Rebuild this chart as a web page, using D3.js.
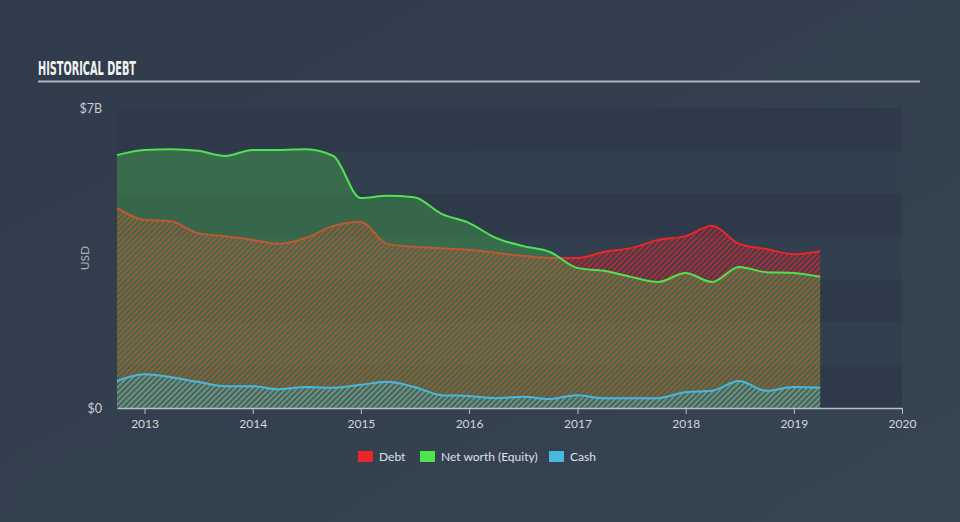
<!DOCTYPE html>
<html>
<head>
<meta charset="utf-8">
<script src="https://cdn.jsdelivr.net/npm/d3@7"></script>
<style>
  html, body { margin: 0; padding: 0; background: #333f4e; }
  svg { display: block; }
</style>
</head>
<body>
<svg id="chart" width="960" height="522"></svg>
<script>
// ---- data (quarter-end dates, values in billions USD) ----
const dates = [
  "2012-09-30","2012-12-31","2013-03-31","2013-06-30","2013-09-30","2013-12-31",
  "2014-03-31","2014-06-30","2014-09-30","2014-12-31","2015-03-31","2015-06-30",
  "2015-09-30","2015-12-31","2016-03-31","2016-06-30","2016-09-30","2016-12-31",
  "2017-03-31","2017-06-30","2017-09-30","2017-12-31","2018-03-31","2018-06-30",
  "2018-09-30","2018-12-31","2019-03-31"
];
const debt = [4.67,4.39,4.36,4.08,4.01,3.92,3.83,3.97,4.25,4.34,3.83,3.76,3.73,3.69,3.62,3.55,3.50,3.50,3.64,3.73,3.92,4.01,4.25,3.83,3.71,3.59,3.66];
const equity = [5.90,6.02,6.04,6.00,5.88,6.02,6.02,6.04,5.88,4.90,4.95,4.92,4.53,4.32,3.97,3.78,3.64,3.27,3.20,3.06,2.94,3.15,2.94,3.29,3.17,3.15,3.06];
const cash = [0.63,0.79,0.72,0.61,0.51,0.51,0.44,0.49,0.47,0.54,0.61,0.49,0.30,0.28,0.23,0.26,0.21,0.30,0.23,0.23,0.23,0.37,0.40,0.63,0.40,0.49,0.47];
const yearTicks = [2013,2014,2015,2016,2017,2018,2019,2020];
const yTickValues = [0, 7];
const yTickLabels = ["$0", "$7B"];
const seriesNames = ["Debt", "Net worth (Equity)", "Cash"];
const seriesColors = ["#e8262b", "#4fe34f", "#47b8df"];

(function () {
// ---- layout ----
const svg = d3.select("#chart");
const W = 960, H = 522;
const pLeft = 117, pRight = 902, pTop = 108, pBottom = 408;
const parse = d3.timeParse("%Y-%m-%d");
const xDates = dates.map(parse);

const x = d3.scaleTime()
  .domain([parse("2012-09-30"), parse("2020-01-01")])
  .range([pLeft, pRight]);
const y = d3.scaleLinear().domain([0, 7]).range([pBottom, pTop]);

// background
const defs = svg.append("defs");
const bg = defs.append("linearGradient").attr("id", "bg").attr("x1", 0).attr("y1", 0).attr("x2", 1).attr("y2", 1);
bg.append("stop").attr("offset", "0%").attr("stop-color", "#2f3b4a");
bg.append("stop").attr("offset", "100%").attr("stop-color", "#374452");
svg.append("rect").attr("width", W).attr("height", H).attr("fill", "url(#bg)");

// hatch patterns
function hatch(id, color, op) {
  const p = defs.append("pattern").attr("id", id)
    .attr("patternUnits", "userSpaceOnUse").attr("width", 4).attr("height", 4)
    .attr("patternTransform", "rotate(45)");
  p.append("rect").attr("x", 0).attr("y", 0).attr("width", 2).attr("height", 4)
    .attr("fill", color).attr("opacity", op);
}
hatch("hDebt", seriesColors[0], 0.6);
hatch("hCash", seriesColors[2], 0.55);

// title
svg.append("text").attr("x", 38).attr("y", 75)
  .attr("font-family", "'Liberation Sans Narrow','DejaVu Sans Condensed',sans-serif")
  .attr("font-weight", "bold").attr("font-size", 19)
  .attr("textLength", 98).attr("lengthAdjust", "spacingAndGlyphs")
  .attr("fill", "#f2f2f2").text("HISTORICAL DEBT");
svg.append("line").attr("x1", 38).attr("x2", 920).attr("y1", 81.5).attr("y2", 81.5)
  .attr("stroke", "#aeb4bb").attr("stroke-width", 2);

// horizontal bands (one per $1B)
const bandVals = d3.range(0, 7);
svg.append("g").selectAll("rect").data(bandVals).join("rect")
  .attr("x", pLeft).attr("width", pRight - pLeft)
  .attr("y", d => y(d + 1)).attr("height", d => y(d) - y(d + 1))
  .attr("fill", d => (d % 2 === 0) ? "#2e3a49" : "#323f4e");

// areas & lines
const idx = d3.range(dates.length);
const curve = d3.curveMonotoneX;
function areaOf(arr) {
  return d3.area().curve(curve).x(i => x(xDates[i])).y0(y(0)).y1(i => y(arr[i]));
}
function lineOf(arr) {
  return d3.line().curve(curve).x(i => x(xDates[i])).y(i => y(arr[i]));
}
const plot = svg.append("g");
// debt
plot.append("path").attr("d", areaOf(debt)(idx)).attr("fill", seriesColors[0]).attr("fill-opacity", 0.1);
plot.append("path").attr("d", areaOf(debt)(idx)).attr("fill", "url(#hDebt)");
plot.append("path").attr("d", lineOf(debt)(idx)).attr("fill", "none")
  .attr("stroke", seriesColors[0]).attr("stroke-width", 2);
// equity
plot.append("path").attr("d", areaOf(equity)(idx)).attr("fill", seriesColors[1]).attr("fill-opacity", 0.27);
plot.append("path").attr("d", lineOf(equity)(idx)).attr("fill", "none")
  .attr("stroke", seriesColors[1]).attr("stroke-width", 2);
// cash
plot.append("path").attr("d", areaOf(cash)(idx)).attr("fill", "url(#hCash)");
plot.append("path").attr("d", lineOf(cash)(idx)).attr("fill", "none")
  .attr("stroke", seriesColors[2]).attr("stroke-width", 2);

// x axis
const xAxis = d3.axisBottom(x)
  .tickValues(yearTicks.map(yr => new Date(yr, 0, 1)))
  .tickFormat(d3.timeFormat("%Y"))
  .tickSize(6).tickSizeOuter(0);
const gx = svg.append("g").attr("transform", `translate(0,${pBottom})`).call(xAxis);
gx.select(".domain").attr("stroke", "#b8bec6").attr("stroke-width", 1.5);
gx.selectAll(".tick line").attr("stroke", "#b8bec6");
gx.selectAll(".tick text").attr("fill", "#d3d7dc").attr("font-size", 12)
  .attr("font-family", "'Lato','Noto Sans',sans-serif").attr("dy", "0.95em");

// y labels
const yl = d3.axisLeft(y).tickValues(yTickValues).tickFormat((d, i) => yTickLabels[i]).tickSize(0).tickPadding(15);
const gy = svg.append("g").attr("transform", `translate(${pLeft},0)`).call(yl);
gy.select(".domain").remove();
gy.selectAll("text").attr("fill", "#c9cdd3").attr("font-size", 12.5)
  .attr("font-family", "'Lato','Noto Sans',sans-serif");
svg.append("text").attr("transform", "translate(89,258) rotate(-90)")
  .attr("text-anchor", "middle").attr("fill", "#aab0b8").attr("font-size", 12)
  .attr("font-family", "'Lato','Noto Sans',sans-serif").text("USD");

// legend
const legX = [358, 420, 549];
const lg = svg.append("g").selectAll("g").data(seriesNames).join("g")
  .attr("transform", (d, i) => `translate(${legX[i]},451)`);
lg.append("rect").attr("width", 15).attr("height", 11).attr("fill", (d, i) => seriesColors[i]);
lg.append("text").attr("x", 21).attr("y", 10).attr("fill", "#dfe2e6").attr("font-size", 12)
  .attr("font-family", "'Lato','Noto Sans',sans-serif").text(d => d);
})();
</script>
</body>
</html>
